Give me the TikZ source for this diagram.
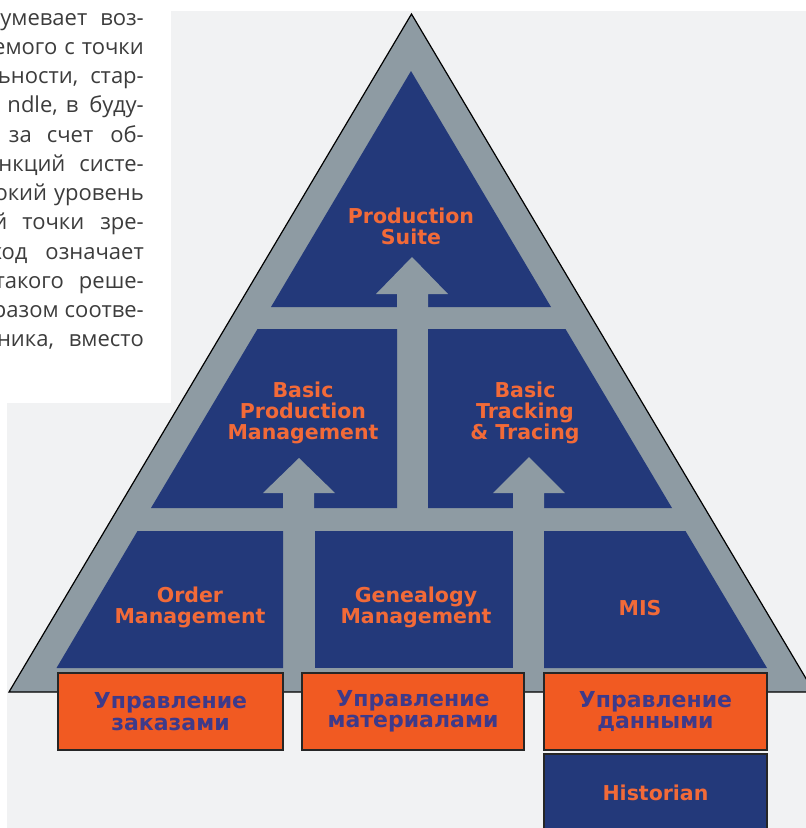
\documentclass[tikz,border=0pt]{standalone}
\usepackage{fontspec}
\setmainfont{Open Sans}
\newfontfamily\labelfont{DejaVu Sans}

\definecolor{pagegray}{RGB}{241,242,243}
\definecolor{framegray}{RGB}{142,155,163}
\definecolor{cellblue}{RGB}{35,57,122}
\definecolor{celltextorange}{RGB}{242,106,56}
\definecolor{boxorange}{RGB}{241,90,34}
\definecolor{boxtextblue}{RGB}{62,58,138}
\definecolor{textgray}{RGB}{60,60,60}

\begin{document}
\begin{tikzpicture}[x=1pt, y=-1pt,
    partext/.style={anchor=base east, inner sep=0pt, font=\fontsize{22}{26}\selectfont, text=textgray},
    cell/.style={fill=cellblue},
    celltext/.style={align=center, inner sep=0pt, text=celltextorange, font=\labelfont\bfseries\fontsize{20.5}{21}\selectfont},
    orangebox/.style={rectangle, draw=black!85, line width=1.5pt, fill=boxorange, minimum width=223pt, minimum height=77pt, inner sep=0pt, align=center, text=boxtextblue, font=\labelfont\bfseries\fontsize{22}{21.5}\selectfont},
    bluebox/.style={orangebox, fill=cellblue, text=celltextorange, minimum height=78pt, font=\labelfont\bfseries\fontsize{20.5}{21}\selectfont}
]
    \useasboundingbox (0,0) rectangle (806,828);

    % Hintergrund
    \fill[pagegray] (171,11) -- (806,11) -- (806,828) -- (7,828) -- (7,403) -- (171,403) -- cycle;

    % Textspalte
    \begin{scope}
        \clip (0,0) rectangle (171,403);
        \foreach \t [count=\i] in {
            умевает\hspace{13pt}воз-,
            емого\hspace{7pt}с\hspace{7pt}точки,
            {ьности,\hspace{12pt}стар-},
            {ndle,\hspace{8pt}в\hspace{11pt}буду-},
            е\hspace{13pt}за\hspace{15pt}счет\hspace{17pt}об-,
            нкций\hspace{14pt}систе-,
            окий\hspace{7pt}уровень,
            й\hspace{15pt}точки\hspace{16pt}зре-,
            ход\hspace{18pt}означает,
            такого\hspace{15pt}реше-,
            разом\hspace{6pt}соотве-,
            {ника,\hspace{15pt}вместо}}
            \node[partext] (line\i) at (144, {25+29.25*(\i-1)}) {\t};
    \end{scope}

    % Pyramide
    \filldraw[fill=framegray, draw=black, line width=1.2pt] (411.5,14) -- (814,692) -- (9,692) -- cycle;

    % Felder
    \fill[cell] (411,71) -- (551,307) -- (271,307) -- cycle;
    \fill[cell] (257.5,329) -- (397,329) -- (397,508) -- (151,508) -- cycle;
    \fill[cell] (428,329) -- (565.5,329) -- (672,508) -- (428,508) -- cycle;
    \fill[cell] (137.5,531) -- (283,531) -- (283,668) -- (56.5,668) -- cycle;
    \fill[cell] (315,531) -- (513,531) -- (513,668) -- (315,668) -- cycle;
    \fill[cell] (544,531) -- (685.5,531) -- (767,668) -- (544,668) -- cycle;

    % Pfeile
    \fill[framegray] (397,310) -- (397,294) -- (376,294) -- (412,257) -- (448,294) -- (428,294) -- (428,310) -- cycle;
    \fill[framegray] (283,511) -- (283,493) -- (263,493) -- (299,458) -- (335,493) -- (314,493) -- (314,511) -- cycle;
    \fill[framegray] (513,511) -- (513,493) -- (493,493) -- (529,457) -- (565,493) -- (544,493) -- (544,511) -- cycle;

    % Beschriftungen
    \node[celltext] (suite) at (411,226) {Production\\Suite};
    \node[celltext] (bpm) at (303,413) {Basic\\Production\\Management};
    \node[celltext] (btt) at (525,413) {Basic\\Tracking\\\& Tracing};
    \node[celltext] (order) at (190,607) {Order\\Management};
    \node[celltext] (genealogy) at (416,607) {Genealogy\\Management};
    \node[celltext] (mis) at (640,608) {MIS};

    % Module
    \node[orangebox, minimum width=225pt] (orders) at (170.5,711.5) {Управление\\заказами};
    \node[orangebox, minimum width=222pt] (materials) at (413,711.5) {Управление\\материалами};
    \node[orangebox] (data) at (655.5,711.5) {Управление\\данными};
    \node[bluebox] (historian) at (655.5,793) {Historian};
\end{tikzpicture}
\end{document}
